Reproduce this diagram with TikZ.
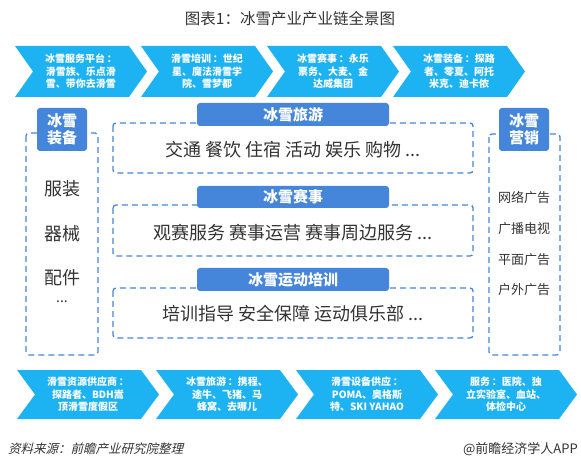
\documentclass[tikz,border=0pt]{standalone}
\usepackage{fontspec}
\setmainfont{Noto Sans CJK SC}
\newfontfamily\srcfont[FakeSlant=0.25]{Noto Sans CJK SC}
\definecolor{chev}{HTML}{1DB2F2}
\definecolor{lab}{HTML}{4586DA}
\definecolor{txt}{HTML}{333333}
\newcommand\chevshape[4]{% left, top, width, height
  \fill[chev] (#1,#2) -- ({#1+#3-18},#2) -- ({#1+#3},{#2+#4/2}) -- ({#1+#3-18},{#2+#4}) -- (#1,{#2+#4}) -- ({#1+18},{#2+#4/2}) -- cycle;}
\begin{document}
\begin{tikzpicture}[x=1pt,y=-1pt,
  chevtext/.style={text=white,font=\fontsize{10}{12.5}\selectfont\bfseries,align=center,inner sep=0pt},
  labbox/.style={text=white,font=\fontsize{15}{17}\selectfont\bfseries,align=center,inner sep=0pt},
  labfill/.style={fill=lab,rounded corners=3pt},
  dbox/.style={draw=lab,line width=1.3pt,dash pattern=on 6pt off 4pt,rounded corners=3pt},
  midtext/.style={text=txt,font=\fontsize{18}{21}\selectfont,inner sep=0pt},
  sidetext/.style={text=txt,inner sep=0pt}]
\useasboundingbox (0,0) rectangle (581,470);
\fill[white] (0,0) rectangle (581,470);
\node[text=txt,font=\fontsize{15.5}{18}\selectfont] (title) at (290,19) {图表1：冰雪产业产业链全景图};
% top chevrons
\chevshape{15}{46}{132}{51}
\chevshape{141}{46}{132}{51}
\chevshape{267}{46}{132}{51}
\chevshape{393}{46}{132}{51}
\node[chevtext] (t1) at (81,71.5) {冰雪服务平台\,：\\滑雪族、乐点滑\\雪、带你去滑雪};
\node[chevtext] (t2) at (207,71.5) {滑雪培训\,：世纪\\星、魔法滑雪学\\院、雪梦都};
\node[chevtext] (t3) at (333,71.5) {冰雪赛事\,：永乐\\票务、大麦、金\\达威集团};
\node[chevtext] (t4) at (459,71.5) {冰雪装备\,：探路\\者、零夏、阿托\\米克、迪卡侬};
% bottom chevrons
\chevshape{17}{370}{142}{49}
\chevshape{156}{370}{142}{49}
\chevshape{296}{370}{142}{49}
\chevshape{435}{370}{142}{49}
\node[chevtext] (b1) at (88,394.5) {滑雪资源供应商\,：\\探路者、BDH嵩\\顶滑雪度假区};
\node[chevtext] (b2) at (227,394.5) {冰雪旅游\,：携程、\\途牛、飞猪、马\\蜂窝、去哪儿};
\node[chevtext] (b3) at (367,394.5) {滑雪设备供应\,：\\POMA、奥格斯\\特、SKI YAHAO};
\node[chevtext] (b4) at (506,394.5) {服务\,：医院、独\\立实验室、血站、\\体检中心};
% left box
\draw[dbox] (26,133) rectangle (98,355);
\fill[labfill] (37,108) rectangle (87,151);
\node[labbox] (leqlab) at (62,129.5) {冰雪\\装备};
\node[sidetext,font=\fontsize{18}{20}\selectfont] (l1) at (62,189) {服装};
\node[sidetext,font=\fontsize{18}{20}\selectfont] (l2) at (62,234) {器械};
\node[sidetext,font=\fontsize{18}{20}\selectfont] (l3) at (62,278) {配件};
\node[sidetext,font=\fontsize{14}{16}\selectfont] (l4) at (62,302) {...};
% right box
\draw[dbox] (489,134) rectangle (560,355);
\fill[labfill] (499,108) rectangle (549,151);
\node[labbox] (mklab) at (524,129.5) {冰雪\\营销};
\node[sidetext,font=\fontsize{13}{15}\selectfont] (r1) at (524,198) {网络广告};
\node[sidetext,font=\fontsize{13}{15}\selectfont] (r2) at (524,229) {广播电视};
\node[sidetext,font=\fontsize{13}{15}\selectfont] (r3) at (524,260) {平面广告};
\node[sidetext,font=\fontsize{13}{15}\selectfont] (r4) at (524,290) {户外广告};
% middle boxes
\draw[dbox] (113,123) rectangle (473,173);
\fill[labfill] (197,103) rectangle (389,126);
\node[labbox] (m1lab) at (293,114.5) {冰雪旅游};
\node[midtext] (m1) at (293,150) {交通 餐饮 住宿 活动 娱乐 购物 ...};
\draw[dbox] (113,205) rectangle (473,256);
\fill[labfill] (197,186) rectangle (389,208);
\node[labbox] (m2lab) at (293,197) {冰雪赛事};
\node[midtext] (m2) at (293,233) {观赛服务 赛事运营 赛事周边服务 ...};
\draw[dbox] (113,288) rectangle (473,338);
\fill[labfill] (197,268) rectangle (389,291);
\node[labbox] (m3lab) at (293,279.5) {冰雪运动培训};
\node[midtext] (m3) at (293,314) {培训指导 安全保障 运动俱乐部 ...};
% footer
\node[anchor=west,text=txt,font=\fontsize{12.5}{15}\selectfont\srcfont,inner sep=0pt] (src) at (8,449) {资料来源：前瞻产业研究院整理};
\node[anchor=east,text=txt,font=\fontsize{13}{15}\selectfont,inner sep=0pt] (app) at (578,449) {@前瞻经济学人APP};
\end{tikzpicture}
\end{document}
